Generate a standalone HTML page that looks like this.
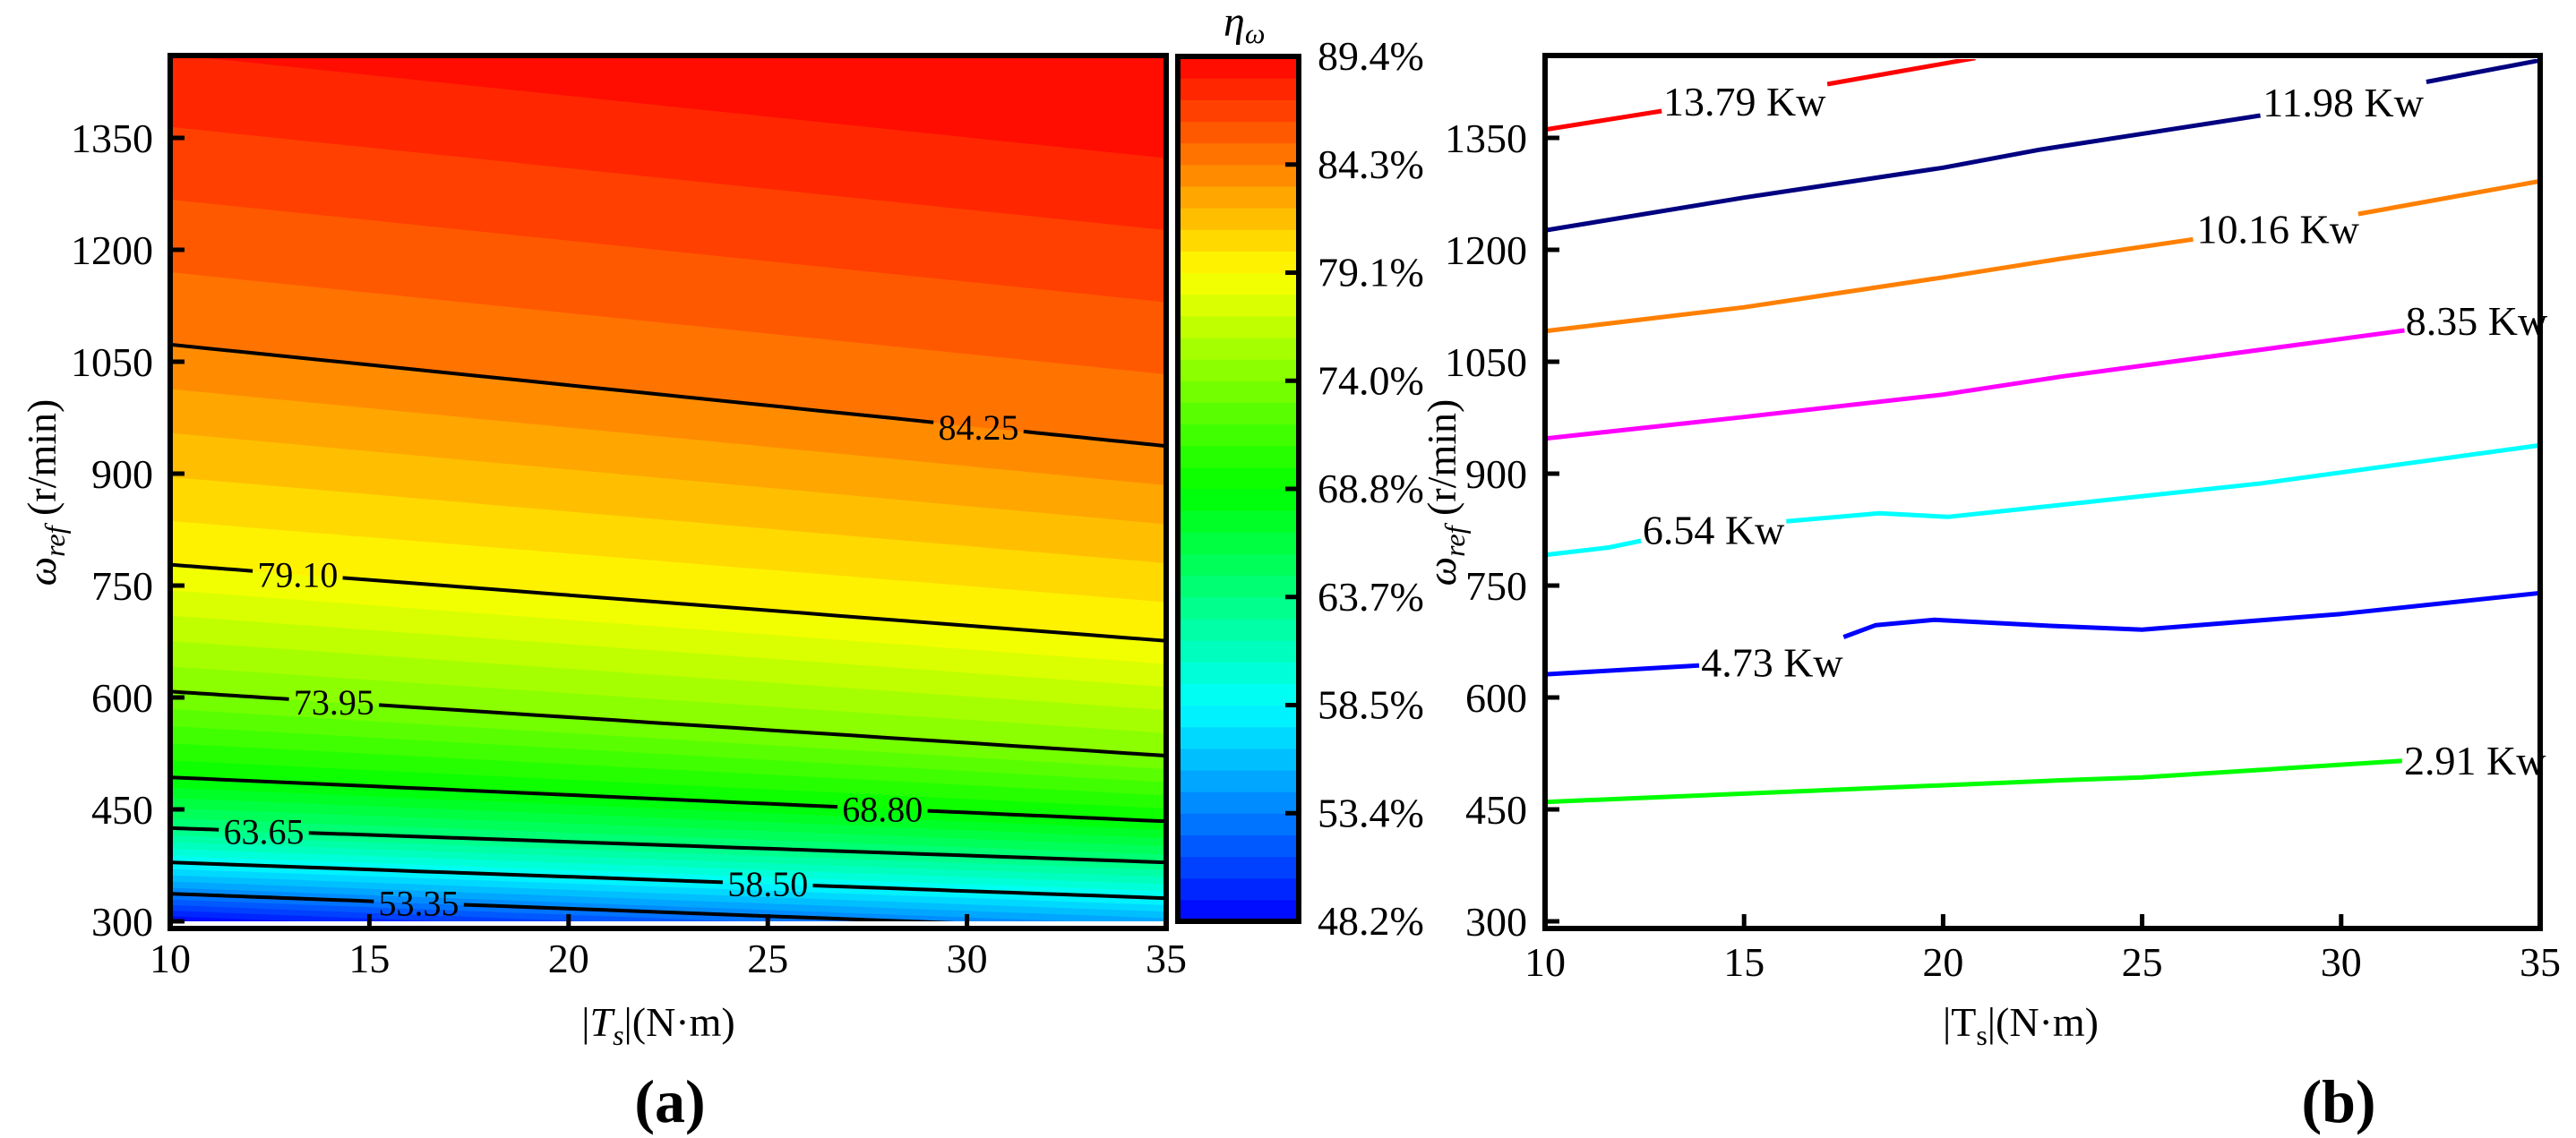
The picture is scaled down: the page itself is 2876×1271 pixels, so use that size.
<!DOCTYPE html>
<html><head><meta charset="utf-8"><title>Efficiency and power contour maps</title>
<style>
html,body{margin:0;padding:0;background:#fff;}
svg{display:block;}
svg text{font-family:'Liberation Serif','Times New Roman',serif;fill:#000;}
</style></head>
<body>
<svg id="fig" xmlns="http://www.w3.org/2000/svg" width="2876" height="1271" viewBox="0 0 2876 1271" font-family="'Liberation Serif', 'Times New Roman', serif">
<defs>
<clipPath id="clipA"><rect x="193" y="65" width="1106" height="964"/></clipPath>
<clipPath id="clipB"><rect x="1728" y="66" width="1105" height="967"/></clipPath>
</defs>
</svg>
<script>
// ---------- Panel (a) data ----------
const levels = [48.2, 53.35, 58.5, 63.65, 68.8, 73.95, 79.1, 84.25, 89.4];
const omegaAtT10 = [300, 337, 379, 425, 493, 608, 778, 1073, 1560];
const omegaAtT35 = [245, 287, 331, 379, 434, 522, 676, 937, 1420];
const contourLabels = ["53.35", "58.50", "63.65", "68.80", "73.95", "79.10", "84.25"];
const contourLabelT = [16.24, 25.0, 12.35, 27.88, 14.11, 13.2, 30.29];
const cbarTicks = ["89.4%", "84.3%", "79.1%", "74.0%", "68.8%", "63.7%", "58.5%", "53.4%", "48.2%"];
const xTicks = [10, 15, 20, 25, 30, 35];
const yTicks = [300, 450, 600, 750, 900, 1050, 1200, 1350];
// ---------- Panel (b) data ----------
const powerNames = ["13.79 Kw", "11.98 Kw", "10.16 Kw", "8.35 Kw", "6.54 Kw", "4.73 Kw", "2.91 Kw"];
const powerColors = ["#ff0000", "#000080", "#ff8000", "#ff00ff", "#00ffff", "#0000ff", "#00ff00"];
const p1379T = [10, 12.93, 17.09, 20.81];
const p1379W = [1361, 1386, 1422, 1457];
const p1198T = [10, 15, 20, 22.41, 27.97, 32.14, 35];
const p1198W = [1226, 1270, 1310, 1334, 1380, 1425, 1454];
const p1016T = [10, 15, 20, 22.95, 26.28, 30.43, 35];
const p1016W = [1091, 1123, 1163, 1188, 1214, 1248, 1292];
const p835T = [10, 15, 20, 22.95, 31.59];
const p835W = [947, 976, 1006, 1030, 1092];
const p654T = [10, 11.6, 12.41, 16.06, 18.4, 20.12, 22.41, 28, 35];
const p654W = [791, 801, 810, 836, 847, 842, 855, 887, 938];
const p473T = [10, 13.87, 17.5, 18.31, 19.78, 22.7, 25, 30, 35];
const p473W = [631, 643, 681, 697, 704, 696, 691, 712, 740];
const p291T = [10, 22.95, 25, 31.53];
const p291W = [460, 489, 493, 515];
const gapStart = [12.93, 27.97, 26.28, null, 12.41, 13.87, null];
const gapEnd = [17.09, 32.14, 30.43, null, 16.06, 17.5, null];
const labelT = [12.97, 28.03, 26.37, 31.62, 12.45, 13.92, 31.58];
const labelW = [1380, 1379, 1209, 1086, 806, 628, 497];

const svg = document.getElementById('fig');
const NS = 'http://www.w3.org/2000/svg';
function mk(tag, attrs, parent) {
  const e = document.createElementNS(NS, tag);
  for (const k in attrs) e.setAttribute(k, attrs[k]);
  (parent || svg).appendChild(e);
  return e;
}
const xA = t => 190 + (t - 10) * 44.48;
const xB = t => 1725 + (t - 10) * 44.44;
const yW = w => 1029 - (w - 300) / 1.2;
const yE = e => 63 + (89.4 - e) / 5.15 * 120.75;

function jet(v) {
  let t = (v - 48.2) / 41.2; t = Math.max(0, Math.min(1, t));
  let r, g, b;
  if (t < 0.25) { r = 0; g = t / 0.25; b = 1; }
  else if (t < 0.5) { r = 0; g = 1; b = 1 - (t - 0.25) / 0.25; }
  else if (t < 0.75) { r = (t - 0.5) / 0.25; g = 1; b = 0; }
  else { r = 1; g = 1 - (t - 0.75) / 0.25; b = 0; }
  return 'rgb(' + Math.round(r * 255) + ',' + Math.round(g * 255) + ',' + Math.round(b * 255) + ')';
}
function levelOmega(i, T) { return omegaAtT10[i] + (omegaAtT35[i] - omegaAtT10[i]) * (T - 10) / 25; }
function omegaForEta(e, T) {
  if (e <= levels[0]) return levelOmega(0, T) - 1000;
  const n = levels.length;
  if (e >= levels[n - 1]) return levelOmega(n - 1, T) + 1000;
  for (let i = 0; i < n - 1; i++) {
    if (e >= levels[i] && e <= levels[i + 1]) {
      const a = levelOmega(i, T), b = levelOmega(i + 1, T);
      return a + (b - a) * (e - levels[i]) / (levels[i + 1] - levels[i]);
    }
  }
}

// ---------- Panel (a): filled contour ----------
const gA = mk('g', { 'clip-path': 'url(#clipA)' });


const nBands = 40, bandW = (89.4 - 48.2) / nBands;
const Ts = []; for (let i = 0; i <= 50; i++) Ts.push(10 + i * 0.5);
for (let k = 0; k < nBands; k++) {
  const lo = 48.2 + k * bandW, hi = lo + bandW;
  const top = Ts.map(T => xA(T).toFixed(1) + ',' + yW(k === nBands - 1 ? 3000 : omegaForEta(hi, T)).toFixed(1));
  const bot = Ts.slice().reverse().map(T => xA(T).toFixed(1) + ',' + yW(k === 0 ? 0 : omegaForEta(lo, T)).toFixed(1));
  const p = mk('polygon', { points: top.concat(bot).join(' '), fill: jet(lo + bandW / 2), stroke: jet(lo + bandW / 2), 'stroke-width': 0.8 }, gA);
  
  
}
const wr = mk('rect', { x: 193, y: yW(300), width: 1106, height: 12, fill: '#fff' }, gA);



for (let j = 0; j < contourLabels.length; j++) {
  const li = j + 1;
  const tc = contourLabelT[j];
  const half = 1.13;
  const segs = [[10, tc - half], [tc + half, 35]];
  for (const s of segs) {
    const pts = [];
    for (let T = s[0]; T <= s[1] + 1e-6; T += (s[1] - s[0]) / 20) pts.push(xA(T).toFixed(1) + ',' + yW(levelOmega(li, T)).toFixed(1));
    const pl = mk('polyline', { points: pts.join(' '), fill: 'none', stroke: '#000', 'stroke-width': 4 }, gA);
    
    
  }
  const tx = mk('text', { x: xA(tc), y: yW(levelOmega(li, tc)) + 14, 'font-size': 40, 'text-anchor': 'middle' });
  tx.textContent = contourLabels[j];
  
  
}

function drawAxes(xf, left, right, prefix, xTickBase, yLabRight) {
  const fr = mk('rect', { x: left, y: 62, width: right - left, height: 975, fill: 'none', stroke: '#000', 'stroke-width': 6 });
  
  
  for (const t of xTicks) {
    const x = xf(t);
    if (t > 10 && t < 35) {
      const tk = mk('line', { x1: x, y1: 1037, x2: x, y2: 1021, stroke: '#000', 'stroke-width': 5 });
      
      
    }
    const lb = mk('text', { x: x, y: xTickBase, 'font-size': 46, 'text-anchor': 'middle' });
    lb.textContent = t;
    
    
  }
  for (const w of yTicks) {
    const y = yW(w);
    const tk = mk('line', { x1: left, y1: y, x2: left + 16, y2: y, stroke: '#000', 'stroke-width': 5 });
    
    
    const lb = mk('text', { x: yLabRight, y: y + 16, 'font-size': 46, 'text-anchor': 'end' });
    lb.textContent = w;
    
    
  }
}
drawAxes(xA, 190, 1302, 'a', 1086, 171);

function yTitle(cx, prefix) {
  const t = mk('text', { transform: 'translate(' + cx + ',550) rotate(-90)', 'font-size': 46, 'text-anchor': 'middle' });
  t.innerHTML = '<tspan font-style="italic">ω</tspan><tspan font-style="italic" font-size="32" dy="10">ref</tspan><tspan dy="-10"> (r/min)</tspan>';
  
  
}
yTitle(62, 'a');
yTitle(1625, 'b');
const xtA = mk('text', { x: 735, y: 1157, 'font-size': 46, 'text-anchor': 'middle' });
xtA.innerHTML = '|<tspan font-style="italic">T</tspan><tspan font-style="italic" font-size="32" dy="10">s</tspan><tspan dy="-10">|(N·m)</tspan>';


const capA = mk('text', { x: 748, y: 1253, 'font-size': 68, 'font-weight': 'bold', 'text-anchor': 'middle' });
capA.textContent = '(a)';



// ---------- colorbar ----------
const gC = mk('g', {});


for (let k = 0; k < nBands; k++) {
  const lo = 48.2 + k * bandW, hi = lo + bandW;
  const r = mk('rect', { x: 1318, y: yE(hi), width: 129, height: yE(lo) - yE(hi) + 0.6, fill: jet(lo + bandW / 2) }, gC);
  
  
}
const cf = mk('rect', { x: 1315, y: 63, width: 135, height: 966, fill: 'none', stroke: '#000', 'stroke-width': 6 }, gC);


for (let i = 0; i < cbarTicks.length; i++) {
  const v = 89.4 - i * 5.15;
  const y = yE(v);
  if (i > 0 && i < cbarTicks.length - 1) {
    const tk = mk('line', { x1: 1450, y1: y, x2: 1435, y2: y, stroke: '#000', 'stroke-width': 5 }, gC);
    
    
  }
  const lb = mk('text', { x: 1471, y: y + 15, 'font-size': 46 }, gC);
  lb.textContent = cbarTicks[i];
  
  
}
const ct = mk('text', { x: 1366, y: 40, 'font-size': 48 }, gC);
ct.innerHTML = '<tspan font-style="italic">η</tspan><tspan font-style="italic" font-size="32" dy="8">ω</tspan>';



// ---------- Panel (b) ----------
drawAxes(xB, 1725, 2836, 'b', 1090, 1705);
const curvesT = [p1379T, p1198T, p1016T, p835T, p654T, p473T, p291T];
const curvesW = [p1379W, p1198W, p1016W, p835W, p654W, p473W, p291W];
const gB = mk('g', { 'clip-path': 'url(#clipB)' });


for (let c = 0; c < curvesT.length; c++) {
  const T = curvesT[c], W = curvesW[c];
  let segs;
  if (gapStart[c] === null) segs = [[...T.keys()]];
  else segs = [[...T.keys()].filter(i => T[i] <= gapStart[c]), [...T.keys()].filter(i => T[i] >= gapEnd[c])];
  for (const s of segs) {
    const pts = s.map(i => xB(T[i]).toFixed(1) + ',' + yW(W[i]).toFixed(1)).join(' ');
    const pl = mk('polyline', { points: pts, fill: 'none', stroke: powerColors[c], 'stroke-width': 5, 'stroke-linejoin': 'round' }, gB);
    
    
  }
}
for (let c = 0; c < powerNames.length; c++) {
  const lb = mk('text', { x: xB(labelT[c]), y: yW(labelW[c]), 'font-size': 46 });
  lb.textContent = powerNames[c];
  
  
}
const xtB = mk('text', { x: 2256, y: 1157, 'font-size': 46, 'text-anchor': 'middle' });
xtB.innerHTML = '|T<tspan font-size="32" dy="10">s</tspan><tspan dy="-10">|(N·m)</tspan>';


const capB = mk('text', { x: 2611, y: 1253, 'font-size': 68, 'font-weight': 'bold', 'text-anchor': 'middle' });
capB.textContent = '(b)';


</script>
</body></html>
